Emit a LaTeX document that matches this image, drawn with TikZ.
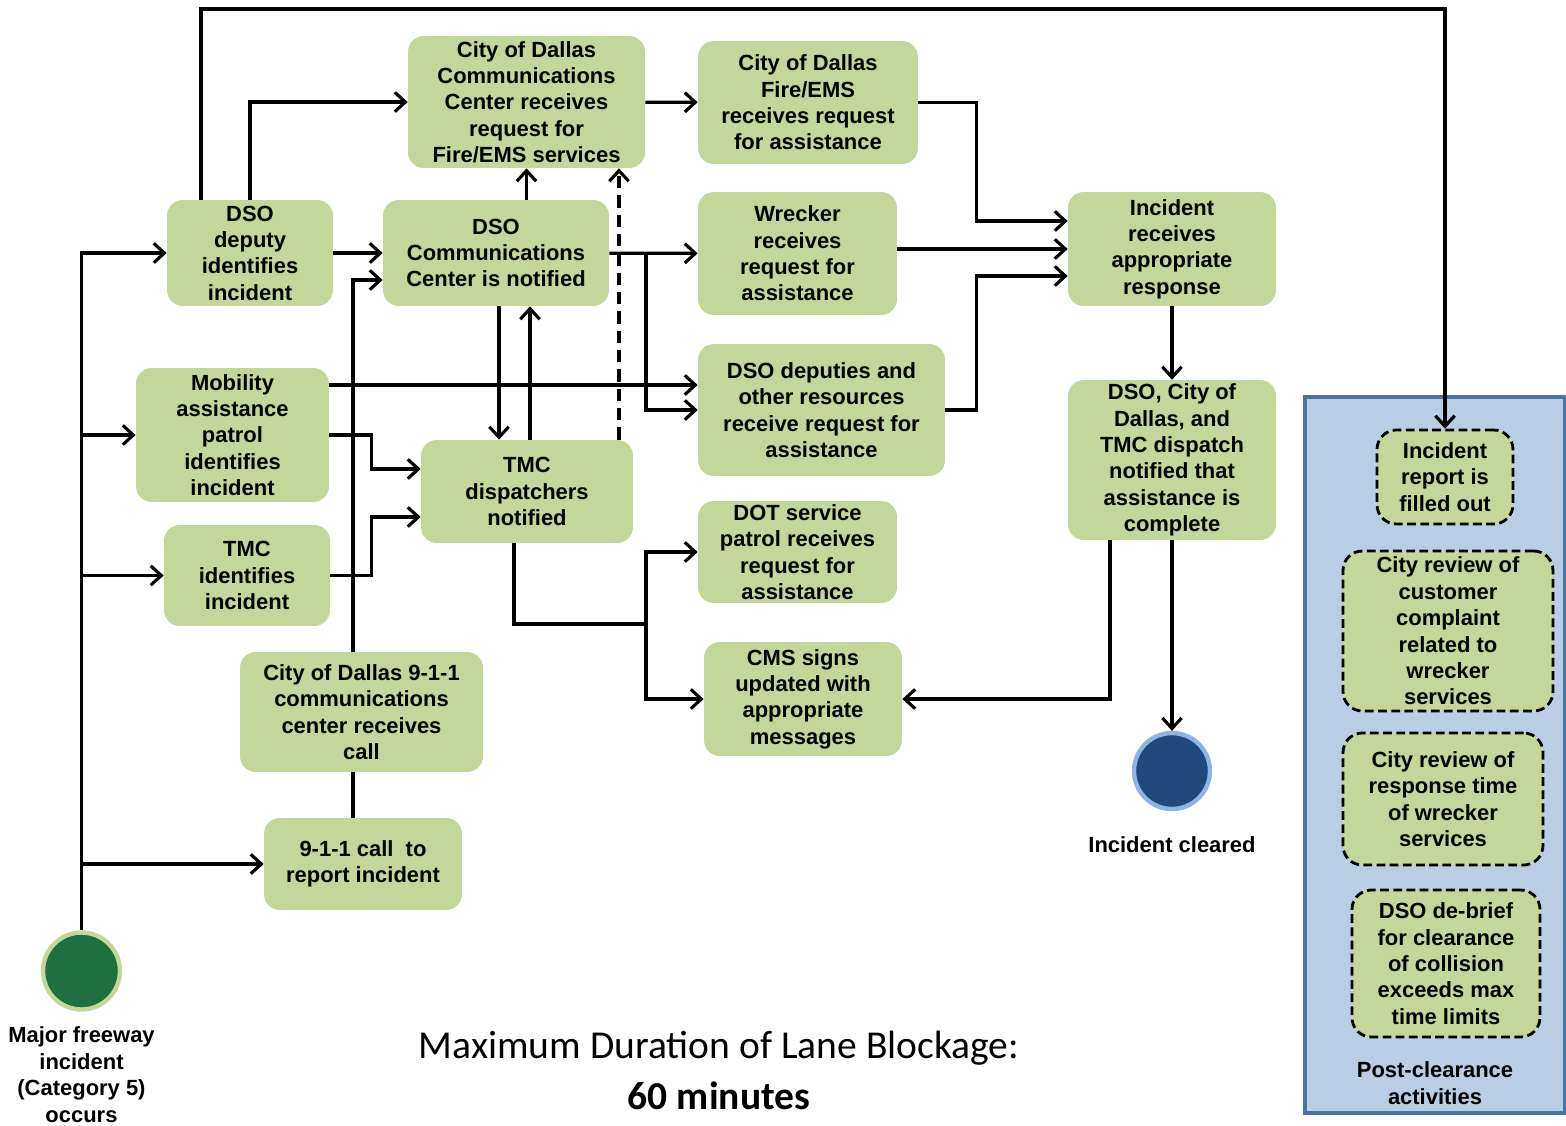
\documentclass[tikz,border=0pt]{standalone}
\usepackage{fontspec}
\setmainfont{Liberation Sans}
\newfontfamily\titlefont{Carlito}
\usepackage{tikz}
\usetikzlibrary{positioning, arrows.meta, shapes.geometric}
\usepackage{xcolor}
\definecolor{actgreen}{HTML}{C4D79B}
\definecolor{startgreen}{HTML}{1E7040}
\definecolor{endblue}{HTML}{1F497D}
\definecolor{ringblue}{HTML}{8EB4E3}
\definecolor{panelblue}{HTML}{B9CDE5}
\definecolor{paneledge}{HTML}{4A74A8}

\begin{document}
\begin{tikzpicture}[x=0.02cm, y=-0.02cm,
		act/.style={rectangle, rounded corners=9pt, fill=actgreen, align=center, inner sep=0pt, font=\fontsize{12.5}{15}\selectfont\bfseries},
		postact/.style={act, draw=black, line width=1.6pt, dash pattern=on 5pt off 2.5pt, rounded corners=11pt},
		flow/.style={line width=1.8pt, -{Straight Barb[length=6pt, width=11pt]}},
		lbl/.style={align=center, inner sep=0pt, font=\fontsize{12.5}{15}\selectfont\bfseries}]
		\useasboundingbox (0,0) rectangle (1566,1126);
		
		\node[draw=paneledge, fill=panelblue, line width=1.8pt, minimum width=5.2cm, minimum height=14.32cm, inner sep=0pt] (panel) at (1435,755) {};
		
		\node[act, minimum width=4.74cm, minimum height=2.64cm] (ccc) at (526.5,102) {City of Dallas\\Communications\\Center receives\\request for\\Fire/EMS services};
		\node[act, minimum width=4.40cm, minimum height=2.46cm] (fems) at (808,102.5) {City of Dallas\\Fire/EMS\\receives request\\for assistance};
		\node[act, minimum width=3.32cm, minimum height=2.12cm] (dsodep) at (250,253) {DSO\\deputy\\identifies\\incident};
		\node[act, minimum width=4.52cm, minimum height=2.12cm] (dsocc) at (496,253) {DSO\\Communications\\Center is notified};
		\node[act, minimum width=3.98cm, minimum height=2.46cm] (wreck) at (797.5,253.5) {Wrecker\\receives\\request for\\assistance};
		\node[act, minimum width=4.16cm, minimum height=2.28cm] (incresp) at (1172,249) {Incident\\receives\\appropriate\\response};
		\node[act, minimum width=3.86cm, minimum height=2.68cm] (mob) at (232.5,435) {Mobility\\assistance\\patrol\\identifies\\incident};
		\node[act, minimum width=4.24cm, minimum height=2.06cm] (tmcd) at (527,491.5) {TMC\\dispatchers\\notified};
		\node[act, minimum width=4.94cm, minimum height=2.64cm] (deps) at (821.5,410) {DSO deputies and\\other resources\\receive request for\\assistance};
		\node[act, minimum width=4.16cm, minimum height=3.20cm] (done) at (1172,460) {DSO, City of\\Dallas, and\\TMC dispatch\\notified that\\assistance is\\complete};
		\node[act, minimum width=3.32cm, minimum height=2.02cm] (tmcid) at (247,575.5) {TMC\\identifies\\incident};
		\node[act, minimum width=3.98cm, minimum height=2.04cm] (dot) at (797.5,552) {DOT service\\patrol receives\\request for\\assistance};
		\node[act, minimum width=4.86cm, minimum height=2.40cm] (city911) at (361.5,712) {City of Dallas 9-1-1\\communications\\center receives\\call};
		\node[act, minimum width=3.96cm, minimum height=2.28cm] (cms) at (803,699) {CMS signs\\updated with\\appropriate\\messages};
		\node[act, minimum width=3.96cm, minimum height=1.84cm] (call) at (363,864) {9-1-1 call\ \ to\\report incident};
		
		\node[circle, fill=startgreen, draw=actgreen, line width=2.5pt, minimum size=1.54cm] (start) at (81.5,971) {};
		\node[lbl, below=0.3cm of start] (startlbl) {Major freeway\\incident\\(Category 5)\\occurs};
		\node[circle, fill=endblue, draw=ringblue, line width=2.5pt, minimum size=1.52cm] (end) at (1172,771) {};
		\node[lbl, below=0.5cm of end] (endlbl) {Incident cleared};
		
		\node[postact, minimum width=2.72cm, minimum height=1.88cm] (rep) at (1445,477) {Incident\\report is\\filled out};
		\node[postact, minimum width=4.20cm, minimum height=3.20cm] (cust) at (1448,631) {City review of\\customer\\complaint\\related to\\wrecker\\services};
		\node[postact, minimum width=4.00cm, minimum height=2.64cm] (resp) at (1443,799) {City review of\\response time\\of wrecker\\services};
		\node[postact, minimum width=3.76cm, minimum height=2.94cm] (brief) at (1446,963.5) {DSO de-brief\\for clearance\\of collision\\exceeds max\\time limits};
		\node[lbl] (panellbl) at (1435,1083) {Post-clearance\\activities};
		
		\node[font=\titlefont\fontsize{22.5}{27}\selectfont] (title) at (719,1048) {Maximum Duration of Lane Blockage:};
		\node[font=\titlefont\fontsize{22.5}{27}\selectfont\bfseries] (mins) at (719,1096) {60 minutes};
		
		\draw[flow] (start.north) |- (dsodep.west);
		\draw[flow] (start.north |- mob.west) -- (mob.west);
		\draw[flow] (start.north |- tmcid.west) -- (tmcid.west);
		\draw[flow] (start.north |- call.west) -- (call.west);
		
		\draw[flow] (201,0 |- dsodep.north) |- (rep.north |- 0,9) -- (rep.north);
		\draw[flow] (dsodep.north) |- (ccc.west);
		\draw (dsodep) edge[flow] (dsocc);
		\draw[flow] (city911.north -| 353,0) |- (dsocc.west |- 0,280);
		\draw[line width=1.8pt] (call.north -| 353,0) -- (city911.south -| 353,0);
		
		\draw[flow] (mob.east |- 0,385) -- (deps.west |- 0,385);
		\draw[flow] (mob.east) -- ++(42,0) |- (tmcd.west |- 0,469);
		\draw[flow] (tmcid.east) -- ++(41,0) |- (tmcd.west |- 0,517);
		
		\draw[flow] (ccc.south |- dsocc.north) -- (ccc.south);
		\draw (dsocc) edge[flow] (wreck);
		\draw[flow] (646,0 |- dsocc.east) |- (deps.west);
		\draw[flow] (dsocc.south -| 499,0) -- (tmcd.north -| 499,0);
		\draw[flow] (tmcd.north -| 530,0) -- (dsocc.south -| 530,0);
		\draw[flow, dash pattern=on 7pt off 4pt] (tmcd.north -| 619,0) -- (ccc.south -| 619,0);
		
		\coordinate (split) at (646,624);
		\draw[flow] (tmcd.south -| 514,0) |- (split) |- (dot.west);
		\draw[flow] (split) |- (cms.west);
		
		\draw (ccc) edge[flow] (fems);
		\draw[flow] (fems.east) -- ++(58,0) |- (incresp.west |- 0,221);
		\draw[flow] (wreck.east |- incresp.west) -- (incresp.west);
		\draw[flow] (deps.east) -- ++(31,0) |- (incresp.west |- 0,276);
		\draw (incresp) edge[flow] (done);
		\draw (done) edge[flow] (end);
		\draw[flow] (done.south -| 1110,0) |- (cms.east);
		
		\end{tikzpicture}
\end{document}
